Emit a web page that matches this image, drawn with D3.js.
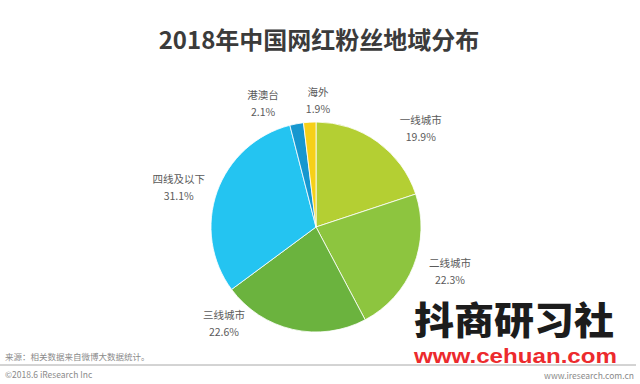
<!DOCTYPE html>
<html><head><meta charset="utf-8">
<script src="https://cdn.jsdelivr.net/npm/d3@7"></script>
<style>body{margin:0;background:#fff}svg{display:block}</style>
</head><body>
<script>
const categories = ["一线城市","二线城市","三线城市","四线及以下","港澳台","海外"];
const values = [19.9, 22.3, 22.6, 31.1, 2.1, 1.9];
const valueLabels = ["19.9%","22.3%","22.6%","31.1%","2.1%","1.9%"];
const colors = ["#b4cf33","#8dc53f","#6bb33e","#24c4f1","#1697cf","#f6d018"];
// label placement (polar, degrees clockwise from 12 o'clock, px)
const labelAngle = [46.7, 108.2, 223.8, 286.3, 336.9, 0.9];
const labelRadius = [144, 141, 133, 143, 135, 127];

const W=640,H=384, cx=316, cy=227, R=105;
const svg=d3.select("body").append("svg").attr("width",W).attr("height",H);
const font="'Noto Sans CJK SC','Noto Sans',sans-serif";

svg.append("text").attr("x",319).attr("y",49).attr("text-anchor","middle")
  .attr("font-family",font).attr("font-weight",700).attr("font-size",24)
  .attr("fill","#3b3b3b").text("2018年中国网红粉丝地域分布");

const pie=d3.pie().sort(null).value(d=>d)(values);
const arc=d3.arc().innerRadius(0).outerRadius(R);
const g=svg.append("g").attr("transform",`translate(${cx},${cy})`);
g.selectAll("path").data(pie).join("path").attr("d",arc)
  .attr("fill",(d,i)=>colors[i]).attr("stroke","#fff").attr("stroke-width",0.8);

const lab=g.selectAll("g.lab").data(pie).join("g").attr("class","lab")
  .attr("transform",(d,i)=>{const a=labelAngle[i]*Math.PI/180;return `translate(${labelRadius[i]*Math.sin(a)},${-labelRadius[i]*Math.cos(a)})`;});
lab.append("text").attr("y",-4).attr("text-anchor","middle").attr("font-family",font)
  .attr("font-size",10.5).attr("fill","#5a5a5a").text((d,i)=>categories[i]);
lab.append("text").attr("y",13).attr("text-anchor","middle").attr("font-family",font)
  .attr("font-size",10.5).attr("fill","#5a5a5a").text((d,i)=>valueLabels[i]);

// footer
svg.append("text").attr("x",5).attr("y",360).attr("font-family",font).attr("font-size",8.5)
  .attr("fill","#8a8a8a").text("来源：相关数据来自微博大数据统计。");
svg.append("line").attr("x1",0).attr("x2",636).attr("y1",365).attr("y2",365)
  .attr("stroke","#a8a8a8").attr("stroke-width",1);
svg.append("text").attr("x",5).attr("y",378).attr("font-family",font).attr("font-size",8.5)
  .attr("fill","#8a8a8a").text("©2018.6 iResearch Inc");
svg.append("text").attr("x",634).attr("y",379).attr("text-anchor","end").attr("font-family",font).attr("font-size",8.5)
  .attr("fill","#8a8a8a").text("www.iresearch.com.cn");

// watermark
svg.append("text").attr("x",414).attr("y",334).attr("font-family",font).attr("font-weight",900)
  .attr("font-size",38).attr("textLength",200).attr("lengthAdjust","spacingAndGlyphs")
  .attr("fill","#1c1c1c").text("抖商研习社");
svg.append("text").attr("x",414).attr("y",363).attr("font-family","'Liberation Sans',Arial,sans-serif").attr("font-weight",700)
  .attr("font-size",21).attr("textLength",203).attr("lengthAdjust","spacingAndGlyphs")
  .attr("fill","#ec2a2d").text("www.cehuan.com");
</script>
</body></html>
